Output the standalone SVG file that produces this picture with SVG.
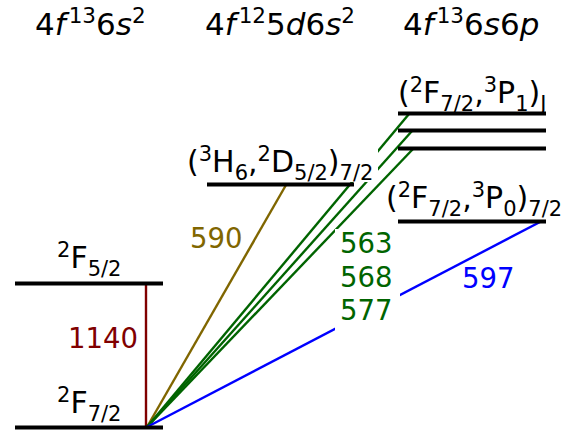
<svg xmlns="http://www.w3.org/2000/svg" width="563" height="431" viewBox="0 0 563 431">
<style>
text{font-family:"DejaVu Sans",sans-serif}
.h{font-size:31px;fill:#000}
.lab{font-size:30px;fill:#000}
.num{font-size:27.5px}
.i{font-style:italic}
.s{font-size:21px}
.hs{font-size:21.5px}
.lvl{stroke:#000;stroke-width:4;fill:none}
.tr{fill:none;stroke-width:2.4}
.red{fill:#800000}
.olive{fill:#806600}
.green{fill:#006400}
.blue{fill:#0000ff}
</style>
<rect width="563" height="431" fill="#fff"/>
<g id="headings">
<text class="h" x="35" y="35">4<tspan class="i">f</tspan><tspan class="hs" dx="3" dy="-12">13</tspan><tspan dy="12">6</tspan><tspan class="i">s</tspan><tspan class="hs" dy="-12">2</tspan></text>
<text class="h" x="205" y="35">4<tspan class="i">f</tspan><tspan class="hs" dx="3" dy="-12">12</tspan><tspan dy="12">5</tspan><tspan class="i">d</tspan>6<tspan class="i">s</tspan><tspan class="hs" dy="-12">2</tspan></text>
<text class="h" x="403" y="35">4<tspan class="i">f</tspan><tspan class="hs" dx="3" dy="-12">13</tspan><tspan dy="12">6</tspan><tspan class="i">s</tspan>6<tspan class="i">p</tspan></text>
</g>
<g id="connectors">
<line class="tr" x1="146" y1="283" x2="146" y2="427" stroke="#800000"/>
<line class="tr" x1="147" y1="427" x2="286" y2="185" stroke="#806600"/>
<line class="tr" x1="147" y1="427" x2="409" y2="114" stroke="#006400"/>
<line class="tr" x1="147" y1="427" x2="412" y2="131" stroke="#006400"/>
<line class="tr" x1="147" y1="427" x2="413" y2="149" stroke="#006400"/>
<line class="tr" x1="147" y1="427" x2="540" y2="222" stroke="#0000ff"/>
</g>
<g id="ground">
<line class="lvl" x1="15" y1="427.5" x2="163" y2="427.5"/>
<text class="lab" x="57" y="413"><tspan class="s" dy="-11">2</tspan><tspan dy="11">F</tspan><tspan class="s" dy="8">7/2</tspan></text>
</g>
<g id="F52">
<line class="lvl" x1="15" y1="283.5" x2="163" y2="283.5"/>
<text class="lab" x="57" y="268"><tspan class="s" dy="-11">2</tspan><tspan dy="11">F</tspan><tspan class="s" dy="8">5/2</tspan></text>
</g>
<g id="d-level">
<rect x="183" y="138" width="195" height="44" fill="#fff"/>
<line class="lvl" x1="207" y1="184.5" x2="354" y2="184.5"/>
<text class="lab" x="187" y="172">(<tspan class="s" dy="-11">3</tspan><tspan dy="11">H</tspan><tspan class="s" dy="8">6</tspan><tspan dy="-8">,</tspan><tspan class="s" dy="-11">2</tspan><tspan dy="11">D</tspan><tspan class="s" dy="8">5/2</tspan><tspan dy="-8">)</tspan><tspan class="s" dy="8">7/2</tspan></text>
</g>
<g id="p-levels-J">
<line class="lvl" x1="398" y1="113.5" x2="546" y2="113.5"/>
<line class="lvl" x1="398" y1="130.5" x2="546" y2="130.5"/>
<line class="lvl" x1="398" y1="148.5" x2="546" y2="148.5"/>
<text class="lab" x="398" y="103">(<tspan class="s" dy="-11">2</tspan><tspan dy="11">F</tspan><tspan class="s" dy="8">7/2</tspan><tspan dy="-8">,</tspan><tspan class="s" dy="-11">3</tspan><tspan dy="11">P</tspan><tspan class="s" dy="8">1</tspan><tspan dy="-8">)</tspan><tspan class="s" dy="8">J</tspan></text>
</g>
<g id="p-level-72">
<line class="lvl" x1="398" y1="221.5" x2="546" y2="221.5"/>
<text class="lab" x="386" y="208">(<tspan class="s" dy="-11">2</tspan><tspan dy="11">F</tspan><tspan class="s" dy="8">7/2</tspan><tspan dy="-8">,</tspan><tspan class="s" dy="-11">3</tspan><tspan dy="11">P</tspan><tspan class="s" dy="8">0</tspan><tspan dy="-8">)</tspan><tspan class="s" dy="8">7/2</tspan></text>
</g>
<g id="labels">
<text class="num red" x="68" y="348">1140</text>
<text class="num olive" x="190" y="248">590</text>
<rect x="335" y="229" width="65" height="102" fill="#fff"/>
<text class="num green" x="340" y="253">563</text>
<text class="num green" x="340" y="286.5">568</text>
<text class="num green" x="340" y="320">577</text>
<text class="num blue" x="462" y="288">597</text>
</g>
</svg>
